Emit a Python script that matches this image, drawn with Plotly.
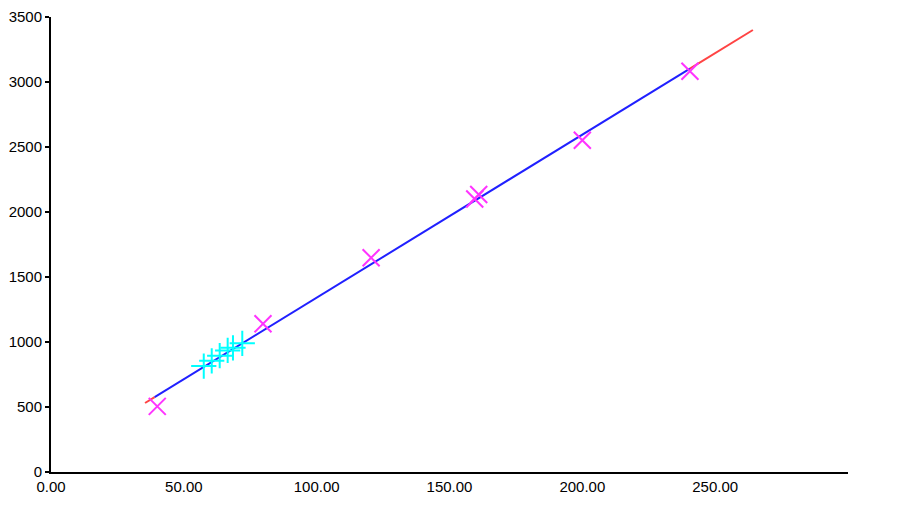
import plotly.graph_objects as go

# Measured data (magenta x markers)
meas_x = [40.0, 79.8, 120.5, 159.5, 161.0, 200.0, 240.5]
meas_y = [505, 1140, 1648, 2100, 2135, 2552, 3083]

# Predicted / sample points (cyan + markers)
samp_x = [57.5, 60.5, 63.5, 66.5, 68.5, 72.0]
samp_y = [815, 855, 895, 935, 955, 990]

# Fit line parameters
fit_slope = 12.54
fit_intercept = 87.0
fit_range_ext = [35.4, 264.2]   # extrapolated extent (red)
fit_range_data = [39.0, 240.5]  # data extent (blue)

x_ticks = [0, 50, 100, 150, 200, 250]
y_ticks = [0, 500, 1000, 1500, 2000, 2500, 3000, 3500]

def line_y(xs):
    return [None if v is None else fit_intercept + fit_slope * v for v in xs]

red_x = [fit_range_ext[0], fit_range_data[0], None, fit_range_data[1], fit_range_ext[1]]

fig = go.Figure()
fig.add_trace(go.Scatter(x=red_x, y=line_y(red_x), mode="lines",
                         line=dict(color="#ff4444", width=2), connectgaps=False,
                         showlegend=False))
fig.add_trace(go.Scatter(x=fit_range_data, y=line_y(fit_range_data), mode="lines",
                         line=dict(color="#2020ff", width=2), showlegend=False))
fig.add_trace(go.Scatter(x=samp_x, y=samp_y, mode="markers",
                         marker=dict(symbol="cross-thin", size=18, color="#00ffff",
                                     line=dict(color="#00ffff", width=2)),
                         showlegend=False))
fig.add_trace(go.Scatter(x=meas_x, y=meas_y, mode="markers",
                         marker=dict(symbol="x-thin", size=17, color="#ff33ff",
                                     line=dict(color="#ff33ff", width=2)),
                         showlegend=False))

fig.update_layout(
    width=890, height=518,
    margin=dict(l=43, r=50, t=9, b=54),
    plot_bgcolor="white", paper_bgcolor="white",
    font=dict(family="Liberation Sans, Arial, sans-serif", size=15, color="black"),
    xaxis=dict(range=[0, 300], tickvals=x_ticks, ticktext=[f"{v:.2f}" for v in x_ticks],
               showgrid=False, zeroline=False, showline=True, linecolor="black",
               linewidth=2, ticks="", automargin=False, fixedrange=True),
    yaxis=dict(range=[0, 3500], tickvals=y_ticks, showgrid=False, zeroline=False,
               showline=True, linecolor="black", linewidth=2, ticks="outside",
               ticklen=4, tickwidth=2, tickcolor="black", automargin=False,
               fixedrange=True),
)

fig.write_html("out.html")
